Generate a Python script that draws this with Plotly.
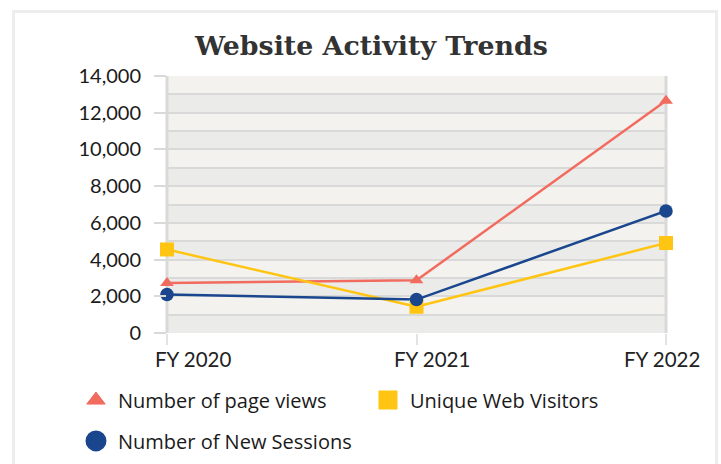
import plotly.graph_objects as go

years = ["FY 2020", "FY 2021", "FY 2022"]
page_views = [2720, 2870, 12650]
unique_visitors = [4550, 1430, 4900]
new_sessions = [2100, 1820, 6650]

series_names = ["Number of page views", "Unique Web Visitors", "Number of New Sessions"]
colors = ["#f26b5f", "#ffc512", "#1a468e"]
symbols = ["triangle-up", "square", "circle"]
y_ticks = [0, 2000, 4000, 6000, 8000, 10000, 12000, 14000]

FONT = "Lato"
LEG_FONT = "Open Sans"
fig = go.Figure()

all_vals = [page_views, unique_visitors, new_sessions]
legends = ["legend", "legend", "legend2"]
data_sizes = [12, 14, 13.5]
leg_line = [1, 3, 5]

# lines
for name, vals, col in zip(series_names, all_vals, colors):
    fig.add_trace(go.Scatter(x=years, y=vals, mode="lines", line=dict(color=col, width=2.5),
                             showlegend=False, cliponaxis=False, hoverinfo="skip"))
# data markers
for name, vals, col, sym, sz in zip(series_names, all_vals, colors, symbols, data_sizes):
    fig.add_trace(go.Scatter(x=years, y=vals, mode="markers", name=name, showlegend=False,
                             marker=dict(color=col, symbol=sym, size=sz, line=dict(width=0)),
                             cliponaxis=False))
# legend entries (larger symbols, like the reference legend)
for name, col, sym, lg, lw in zip(series_names, colors, symbols, legends, leg_line):
    fig.add_trace(go.Scatter(x=[None], y=[None], mode="markers", name=name, legend=lg,
                             marker=dict(color=col, symbol=sym, size=16, line=dict(width=lw, color=col))))

# alternating bands
shapes = []
for k in range(0, 14):
    shapes.append(dict(type="rect", xref="paper", yref="y", x0=0, x1=1, y0=k * 1000, y1=(k + 1) * 1000,
                       fillcolor="#ebecea" if k % 2 == 0 else "#f3f2ee", line=dict(width=0), layer="below"))
# left / right plot borders, drawn under the markers
for xp in (0, 1):
    shapes.append(dict(type="line", xref="paper", yref="paper", x0=xp, x1=xp, y0=0, y1=1,
                       line=dict(color="#d9d9d9", width=3), layer="between"))
# outer frame
shapes.append(dict(type="rect", xref="paper", yref="paper", x0=-0.3076, x1=1.1012, y0=-0.55, y1=1.251,
                   line=dict(color="#ededed", width=3), fillcolor="rgba(0,0,0,0)", layer="above"))

# category labels (offset like the reference)
label_shifts = [26, 15, -4]
annotations = [dict(text=yr, x=yr, xref="x", y=0, yref="paper", yanchor="middle", xanchor="center",
                    xshift=sh, yshift=-26, showarrow=False,
                    font=dict(family=FONT, size=20.5, color="#222222"))
               for yr, sh in zip(years, label_shifts)]

fig.update_layout(
    width=721, height=464,
    margin=dict(l=167, r=55, t=76, b=131, autoexpand=False),
    paper_bgcolor="white", plot_bgcolor="#f3f2ee",
    title=dict(text="<b>Website Activity Trends</b>", x=0.515, xanchor="center", y=0.901, yanchor="middle",
               font=dict(family="DejaVu Serif", size=26.8, color="#333333")),
    font=dict(family=FONT, size=20, color="#1a1a1a"),
    shapes=shapes,
    annotations=annotations,
    xaxis=dict(type="category", range=[0, 2], showgrid=False, showline=False, zeroline=False,
               ticks="outside", ticklen=11, tickwidth=2, tickcolor="#e3e3e3", showticklabels=False),
    yaxis=dict(range=[0, 14000], tickvals=y_ticks, tickformat=",d", showgrid=True, gridcolor="#d9d9d9", gridwidth=2,
               minor=dict(dtick=1000, showgrid=True, gridcolor="#d9d9d9", gridwidth=2),
               showline=False, zeroline=False,
               ticks="outside", ticklen=12, tickwidth=2, tickcolor="#d9d9d9", ticklabelstandoff=9,
               tickfont=dict(family=FONT, size=20, color="#1a1a1a")),
    legend=dict(orientation="h", x=-0.1864, xanchor="left", y=-0.261, yanchor="middle",
                entrywidth=243, entrywidthmode="pixels", itemwidth=34,
                font=dict(family=LEG_FONT, size=20, color="#1a1a1a"), bgcolor="rgba(0,0,0,0)"),
    legend2=dict(orientation="h", x=-0.1864, xanchor="left", y=-0.42, yanchor="middle", itemwidth=34,
                 font=dict(family=LEG_FONT, size=20, color="#1a1a1a"), bgcolor="rgba(0,0,0,0)"),
    hovermode=False,
)

fig.write_html("out.html", config={"displayModeBar": False},
               post_script="document.body.style.margin='0';document.body.style.padding='0';")
